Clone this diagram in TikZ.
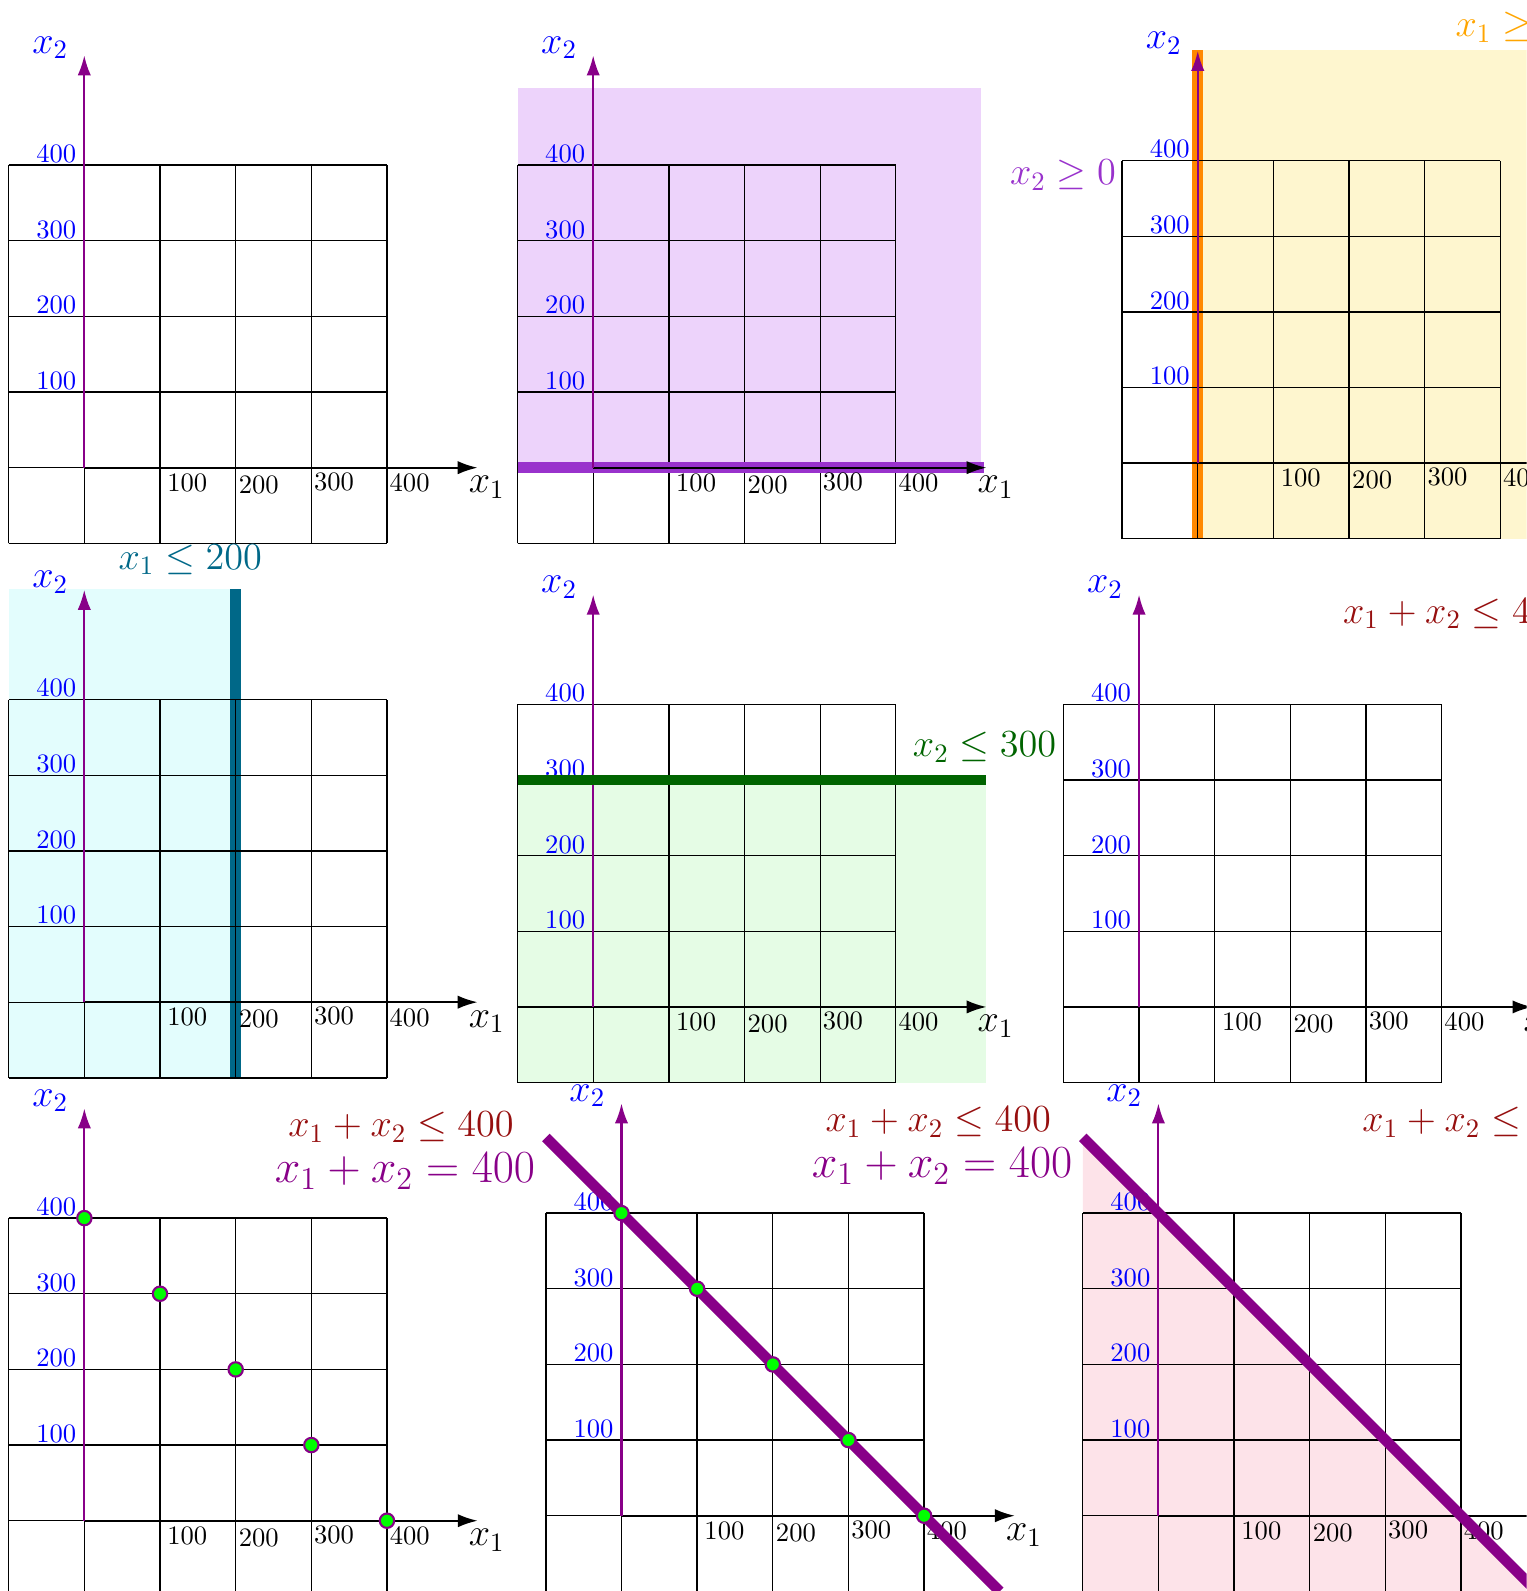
\documentclass[tikz,border=0pt]{standalone}
\usetikzlibrary{arrows.meta}

\definecolor{axpurple}{RGB}{136,0,136}
\definecolor{lavender}{RGB}{237,211,251}
\definecolor{orchid}{RGB}{153,50,204}
\definecolor{cream}{RGB}{254,246,207}
\definecolor{lporange}{RGB}{255,136,0}
\definecolor{lporangetext}{RGB}{255,165,0}
\definecolor{icecyan}{RGB}{227,253,253}
\definecolor{lpteal}{RGB}{0,104,136}
\definecolor{mint}{RGB}{229,252,229}
\definecolor{lpgreen}{RGB}{0,100,0}
\definecolor{lpred}{RGB}{150,15,15}
\definecolor{blush}{RGB}{253,227,233}
\definecolor{vgreen}{RGB}{0,255,0}

\tikzset{
  gridline/.style={line width=0.5pt},
  xaxis/.style={thick,-{Latex[length=7.5pt,width=5pt]}},
  yaxis/.style={thick,axpurple,-{Latex[length=7.5pt,width=5pt]}},
  axlabel/.style={font=\Large,inner sep=0pt},
  xtick/.style={anchor=north west,inner sep=0pt},
  ytick/.style={anchor=south east,inner sep=0pt,text=blue},
  bound/.style={line width=4pt},
  conlabel/.style={font=\Large,anchor=west,inner sep=0pt},
  corner/.style={circle,fill=vgreen,draw=axpurple,line width=0.8pt,inner sep=0pt,minimum size=0.19cm},
}

% grid of one panel
\newcommand{\lpgrid}{\draw[gridline] (-1,-1) grid (4,4);}
% axes, ticks and axis labels of one panel, #1 = panel name
\newcommand{\lpaxes}[1]{%
  \draw[xaxis] (0,0) coordinate (#1o) -- (5.2,0) coordinate (#1x);
  \draw[yaxis] (#1o) -- (0,5.45) coordinate (#1y);
  \node[axlabel] (#1lx) at (5.32,-0.26) {$x_1$};
  \node[axlabel,text=blue] (#1ly) at (-0.45,5.55) {$x_2$};
  \foreach \k/\dx/\dy in {1/0.09/0.07,2/0.035/0.10,3/0.03/0.06,4/0.03/0.07}{
    \node[xtick] (#1tx\k) at (\k+\dx,-\dy) {\k00};
    \node[ytick] (#1ty\k) at (-0.1,\k+0.02) {\k00};
  }%
}
% the three labels of the last row
\newcommand{\lple}[1]{\node[conlabel,text=lpred] (#1le) at (2.69,5.2) {$x_1+x_2\leq 400$};}
\newcommand{\lpeq}[1]{\node[conlabel,font=\LARGE,text=axpurple] (#1eq) at (2.51,4.62) {$x_1+x_2=400$};}
\newcommand{\lpcorners}[1]{%
  \foreach \k in {0,...,4}{
    \node[corner] (#1c\k) at (\k,4-\k) {};
  }%
}

\begin{document}
\begin{tikzpicture}
\useasboundingbox (0,0) rectangle (20.18,21.03);
\clip (0,0) rectangle (20.18,21.03);

% first row
\begin{scope}[shift={(1.114,14.848)}]
  \lpgrid
  \lpaxes{a}
\end{scope}

\begin{scope}[shift={(7.841,14.848)}]
  \fill[lavender] (-1,0) rectangle (5.12,5.02);
  \lpgrid
  \draw[bound,orchid] (-1,0) coordinate (bl) -- (5.17,0) coordinate (br);
  \lpaxes{b}
  \node[font=\Large,text=orchid] (bcon) at (6.21,3.87) {$x_2\geq 0$};
\end{scope}

\begin{scope}[shift={(15.832,14.908)}]
  \fill[cream] (0,-1) rectangle (5.4,5.46);
  \draw[bound,lporange] (0,-1) coordinate (cb) -- (0,5.46) coordinate (ct);
  \lpgrid
  \lpaxes{c}
  \node[conlabel,text=lporangetext] (ccon) at (3.40,5.76) {$x_1\geq 0$};
\end{scope}

% second row
\begin{scope}[shift={(1.114,7.783)}]
  \fill[icecyan] (-1,-1) rectangle (2,5.455);
  \draw[bound,lpteal] (2,-1) coordinate (db) -- (2,5.455) coordinate (dt);
  \lpgrid
  \lpaxes{d}
  \node[font=\Large,text=lpteal] (dcon) at (1.40,5.85) {$x_1\leq 200$};
\end{scope}

\begin{scope}[shift={(7.841,7.720)}]
  \fill[mint] (-1,-1) rectangle (5.19,3);
  \lpgrid
  \lpaxes{e}
  \draw[bound,lpgreen] (-1,3) coordinate (el) -- (5.19,3) coordinate (er);
  \node[conlabel,text=lpgreen] (econ) at (4.22,3.43) {$x_2\leq 300$};
\end{scope}

\begin{scope}[shift={(15.056,7.720)}]
  \lpgrid
  \lpaxes{f}
  \lple{f}
\end{scope}

% third row
\begin{scope}[shift={(1.115,0.929)}]
  \lpgrid
  \lpaxes{g}
  \lpcorners{g}
  \lple{g}
  \lpeq{g}
\end{scope}

\begin{scope}[shift={(8.215,0.995)}]
  \lpgrid
  \lpaxes{h}
  \coordinate (hs) at (-1,5);
  \coordinate (he) at (5,-1);
  \draw[bound,axpurple] (hs) -- (he);
  \lpcorners{h}
  \lple{h}
  \lpeq{h}
\end{scope}

\begin{scope}[shift={(15.312,0.995)}]
  \coordinate (is) at (-1,5);
  \coordinate (ie) at (5,-1);
  \fill[blush] (is) -- (ie) -- (-1,-1) -- cycle;
  \lpgrid
  \lpaxes{i}
  \draw[bound,axpurple] (is) -- (ie);
  \lple{i}
\end{scope}
\end{tikzpicture}
\end{document}
